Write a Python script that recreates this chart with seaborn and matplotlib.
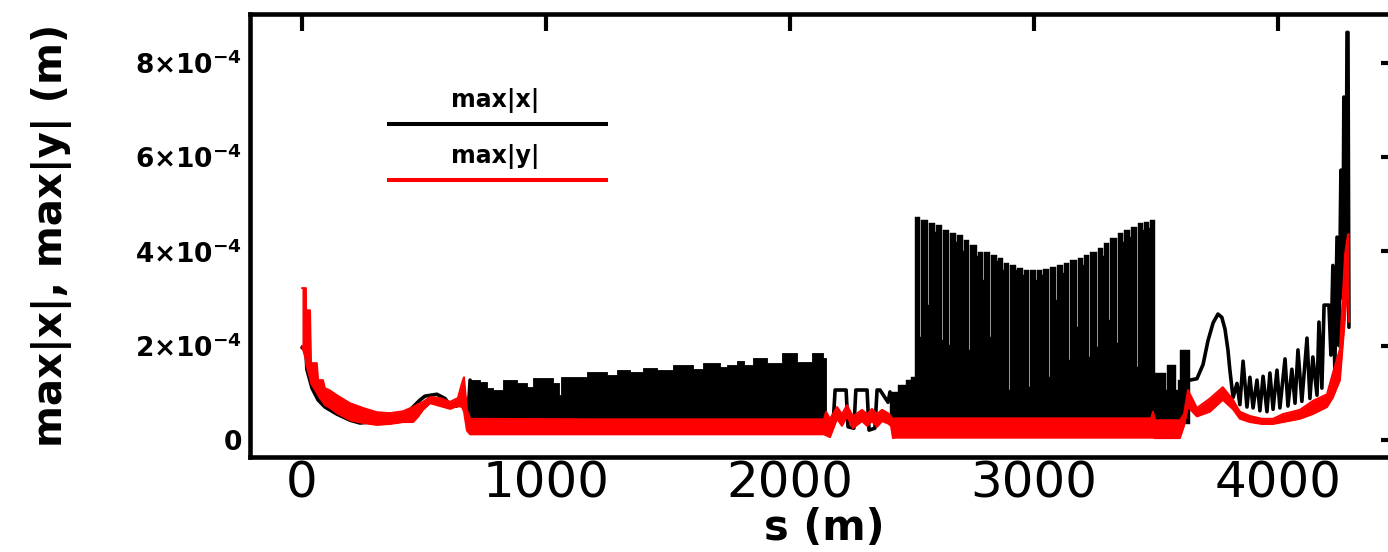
import numpy as np
import matplotlib
matplotlib.use("Agg")
import matplotlib.pyplot as plt
import seaborn as sns

# ------------------------------------------------------------------
# Data (s in metres, amplitudes in units of 1e-4 m)
# ------------------------------------------------------------------
# max|y| : lower / upper envelope of the (dense) red trace
maxy_s = [0, 16, 17, 33, 37, 61, 66, 86, 94, 115, 143, 197, 250, 307, 361, 414, 455,
          475, 496, 525, 566, 607, 639, 656, 664, 676, 689,
          1200, 1700, 2139, 2148, 2164, 2193, 2213, 2234, 2258, 2295, 2316, 2336,
          2357, 2377, 2402, 2414, 2422,
          2430, 3480, 3488, 3496, 3598, 3615, 3631, 3668, 3721, 3774, 3816, 3844,
          3885, 3934, 3980, 4020, 4090, 4143, 4201, 4225, 4254, 4275, 4287, 4291]
maxy_lo = [2.00, 1.70, 1.60, 1.30, 1.20, 1.00, 0.95, 0.80, 0.74, 0.68, 0.57, 0.42, 0.36,
           0.32, 0.34, 0.38, 0.38, 0.49, 0.64, 0.78, 0.72, 0.66, 0.72, 0.70, 0.60, 0.20,
           0.12,
           0.12, 0.12, 0.12, 0.10, 0.06, 0.45, 0.30, 0.50, 0.25, 0.40, 0.30, 0.40,
           0.28, 0.40, 0.35, 0.30, 0.04,
           0.05, 0.05, 0.05, 0.04, 0.04, 0.30, 0.70, 0.50, 0.60, 0.85, 0.65, 0.45,
           0.38, 0.34, 0.34, 0.38, 0.45, 0.55, 0.70, 0.90, 1.27, 2.60, 3.50, 2.50]
maxy_hi = [3.22, 3.22, 2.75, 2.75, 1.63, 1.63, 1.27, 1.27, 1.10, 1.05, 0.95, 0.78, 0.68,
           0.59, 0.57, 0.61, 0.70, 0.76, 0.81, 0.91, 0.89, 0.81, 0.89, 1.21, 1.33, 0.64,
           0.45,
           0.44, 0.44, 0.44, 0.60, 0.45, 0.70, 0.55, 0.74, 0.50, 0.64, 0.55, 0.66,
           0.55, 0.64, 0.57, 0.50, 0.44,
           0.46, 0.46, 0.60, 0.42, 0.42, 0.55, 1.06, 0.68, 0.88, 1.12, 0.85, 0.60,
           0.51, 0.45, 0.45, 0.55, 0.64, 0.83, 0.97, 1.42, 1.93, 3.94, 4.36, 4.36]

# max|x| : injection line (single trace)
maxx_a_s = [0, 16, 20, 41, 66, 94, 143, 197, 238, 307, 361, 414, 455, 484, 504, 553,
            586, 607, 635, 656, 668, 680, 689]
maxx_a_v = [1.96, 1.90, 1.50, 1.10, 0.85, 0.70, 0.55, 0.42, 0.36, 0.40, 0.45, 0.50,
            0.70, 0.85, 0.93, 0.97, 0.88, 0.74, 0.72, 0.85, 0.90, 0.50, 1.27]

# max|x| : first arc, top of the dense band (step envelope)
maxx_b_s = [689, 730, 758, 783, 824, 881, 922, 947, 988, 1029, 1053, 1061, 1168, 1250,
            1291, 1344, 1398, 1455, 1520, 1602, 1643, 1713, 1742, 1783, 1811, 1848,
            1906, 1967, 2029, 2090, 2135, 2148]
maxx_b_hi = [1.27, 1.23, 1.10, 1.06, 1.27, 1.21, 1.12, 1.31, 1.31, 1.21, 0.95, 1.33,
             1.44, 1.38, 1.48, 1.44, 1.52, 1.48, 1.59, 1.50, 1.63, 1.55, 1.59, 1.67,
             1.59, 1.74, 1.63, 1.84, 1.65, 1.84, 1.74, 1.74]

# max|x| : straight section between the arcs
maxx_c_s = [2148, 2176, 2185, 2230, 2238, 2262, 2270, 2316, 2324, 2348, 2357, 2369,
            2402, 2410]
maxx_c_v = [0.28, 0.28, 1.06, 1.06, 0.28, 0.25, 1.06, 1.06, 0.21, 0.25, 1.06, 1.06,
            0.80, 1.02]

# max|x| : entrance of the second arc (step envelope)
maxx_d_s = [2410, 2443, 2475, 2496]
maxx_d_hi = [1.02, 1.17, 1.27, 1.33]

# max|x| : second arc cells (start position, peak, bottom of the gap after the cell)
cell_s = [2512, 2537, 2570, 2598, 2627, 2656, 2684, 2713, 2738, 2770, 2795, 2824,
          2852, 2877, 2902, 2930, 2959, 2984, 3012, 3037, 3066, 3094, 3123, 3148,
          3180, 3205, 3230, 3262, 3287, 3311, 3344, 3369, 3398, 3426, 3451, 3475]
cell_peak = [4.72, 4.66, 4.60, 4.55, 4.45, 4.38, 4.34, 4.24, 4.13, 3.98, 3.98, 3.92,
             3.86, 3.75, 3.71, 3.64, 3.60, 3.60, 3.60, 3.62, 3.67, 3.70, 3.75, 3.81,
             3.86, 3.92, 3.98, 4.07, 4.17, 4.28, 4.38, 4.45, 4.51, 4.60, 4.62, 4.66]
cell_gap = [2.18, 2.86, 4.40, 2.12, 2.01, 4.20, 4.00, 1.91, 3.90, 3.39, 2.18, 3.80,
            3.60, 1.06, 3.60, 3.50, 1.12, 3.39, 3.50, 1.33, 2.97, 3.55, 1.69, 2.39,
            3.70, 1.76, 1.97, 3.90, 2.54, 2.06, 4.20, 4.30, 1.55, 4.45, 4.50]

# max|x| : exit of the second arc (step envelope)
maxx_e_s = [3496, 3541, 3545, 3582, 3590, 3598, 3639]
maxx_e_hi = [1.42, 1.06, 1.59, 1.06, 1.27, 1.91, 1.91]

# max|x| : final section (single trace)
maxx_f_s = [3639, 3668, 3693, 3713, 3734, 3754, 3770, 3783, 3795, 3803, 3816, 3832,
            3844, 3857, 3873, 3885, 3898, 3914, 3926, 3939, 3955, 3967, 3980, 3996,
            4008, 4029, 4041, 4057, 4070, 4082, 4098, 4119, 4131, 4143, 4160, 4168,
            4180, 4189, 4209, 4217, 4225, 4233, 4242, 4250, 4258, 4266, 4270, 4279,
            4283, 4287, 4291]
maxx_f_v = [1.27, 1.30, 1.60, 2.10, 2.48, 2.67, 2.60, 2.35, 1.91, 1.48, 0.90, 1.20,
            0.75, 1.67, 0.70, 1.33, 0.68, 1.27, 0.62, 1.35, 0.60, 1.42, 0.65, 1.48,
            0.68, 1.72, 0.72, 1.50, 0.78, 1.91, 0.82, 2.16, 0.88, 1.76, 0.95, 2.50,
            1.10, 2.86, 2.86, 1.80, 3.70, 1.50, 4.30, 2.00, 5.72, 3.00, 7.27, 4.00,
            8.64, 8.64, 2.39]

band_floor = 0.35          # bottom of the dense max|x| band (hidden under max|y|)

x_ticks = [0, 1000, 2000, 3000, 4000]
x_tick_labels = ["0", "1000", "2000", "3000", "4000"]
y_ticks = [0, 2e-4, 4e-4, 6e-4, 8e-4]
y_tick_labels = [r"$\mathbf{0}$", r"$\mathbf{2{\times}10^{-4}}$", r"$\mathbf{4{\times}10^{-4}}$",
                 r"$\mathbf{6{\times}10^{-4}}$", r"$\mathbf{8{\times}10^{-4}}$"]
legend_labels = ["max|x|", "max|y|"]

# ------------------------------------------------------------------
UNIT = 1e-4
SLIT = 3.0   # width of the white slit between cells (m)


def stair(xs, vs):
    """explicit staircase outline (value held until the next position)"""
    px, pv = [], []
    for i in range(len(xs) - 1):
        px += [xs[i], xs[i + 1]]
        pv += [vs[i], vs[i]]
    return np.array(px, float), np.array(pv, float)


sns.set_style("white")
plt.rcParams["font.family"] = ["DejaVu Sans"]
plt.rcParams["mathtext.fontset"] = "dejavusans"
for k in ("text.color", "axes.labelcolor", "xtick.color", "ytick.color", "axes.edgecolor"):
    plt.rcParams[k] = "black"

fig = plt.figure(figsize=(13.88, 5.52), dpi=100)
ax = fig.add_axes([250 / 1388, 1 - 457 / 552, (1398 - 250) / 1388, (457 - 14) / 552])

# black dense band, first arc
bx, bv = stair(maxx_b_s, maxx_b_hi)
ax.fill_between(bx, band_floor * UNIT, bv * UNIT, color="black", lw=0.6,
                edgecolor="black", zorder=2)

# black dense band, second arc with its cell structure
arc_s, arc_v = list(maxx_d_s), list(maxx_d_hi)
for i, (s0, pk) in enumerate(zip(cell_s, cell_peak)):
    arc_s.append(s0)
    arc_v.append(pk)
    if i < len(cell_gap):
        arc_s.append(cell_s[i + 1] - SLIT)
        arc_v.append(cell_gap[i])
arc_s += maxx_e_s
arc_v += maxx_e_hi
ax_, av_ = stair(arc_s, arc_v)
ax.fill_between(ax_, band_floor * UNIT, av_ * UNIT, color="black", lw=0.3,
                edgecolor="black", zorder=2)

# black single traces
for xs, vs in [(maxx_a_s, maxx_a_v), (maxx_c_s, maxx_c_v), (maxx_f_s, maxx_f_v)]:
    sns.lineplot(x=np.array(xs), y=np.array(vs) * UNIT, ax=ax, color="black",
                 linewidth=2.6, estimator=None, sort=False, zorder=2.5)

# red band on top
ys = np.array(maxy_s)
ax.fill_between(ys, np.array(maxy_lo) * UNIT, np.array(maxy_hi) * UNIT,
                color="red", lw=0, zorder=3)
for edge in (maxy_lo, maxy_hi):
    sns.lineplot(x=ys, y=np.array(edge) * UNIT, ax=ax, color="red", linewidth=1.4,
                 estimator=None, sort=False, zorder=3.1)

ax.set_xlim(-213, 4492)
ax.set_ylim(-0.36e-4, 9.03e-4)
ax.set_xticks(x_ticks)
ax.set_xticklabels(x_tick_labels)
ax.set_yticks(y_ticks)
ax.set_yticklabels(y_tick_labels)
ax.tick_params(direction="in", length=12, width=3, top=True, right=True, colors="black")
ax.tick_params(axis="x", labelsize=36, pad=2)
ax.tick_params(axis="y", labelsize=19, pad=6)
for sp in ax.spines.values():
    sp.set_linewidth(3.3)
    sp.set_color("black")

ax.set_xlabel("s (m)", fontsize=30, fontweight="bold", color="black")
ax.xaxis.set_label_coords(0.5, -0.112)
ax.set_ylabel("max|x|, max|y| (m)", fontsize=29, fontweight="bold", color="black")
ax.yaxis.set_label_coords(-0.155, 0.5)

# legend (text above line, as in the reference)
lx0, lx1, lxc = 0.1193, 0.3118, 0.2134
for (ly, ty, col, lab) in [(0.7517, 0.790, "black", legend_labels[0]),
                           (0.6253, 0.6637, "red", legend_labels[1])]:
    ax.plot([lx0, lx1], [ly, ly], transform=ax.transAxes, color=col, lw=2.9,
            solid_capstyle="butt", zorder=5)
    ax.text(lxc, ty, lab, transform=ax.transAxes, ha="center", va="baseline",
            fontsize=17, fontweight="bold", color="black", zorder=5)

if ax.get_legend() is not None:
    ax.get_legend().remove()

fig.savefig("out.png", dpi=100)
